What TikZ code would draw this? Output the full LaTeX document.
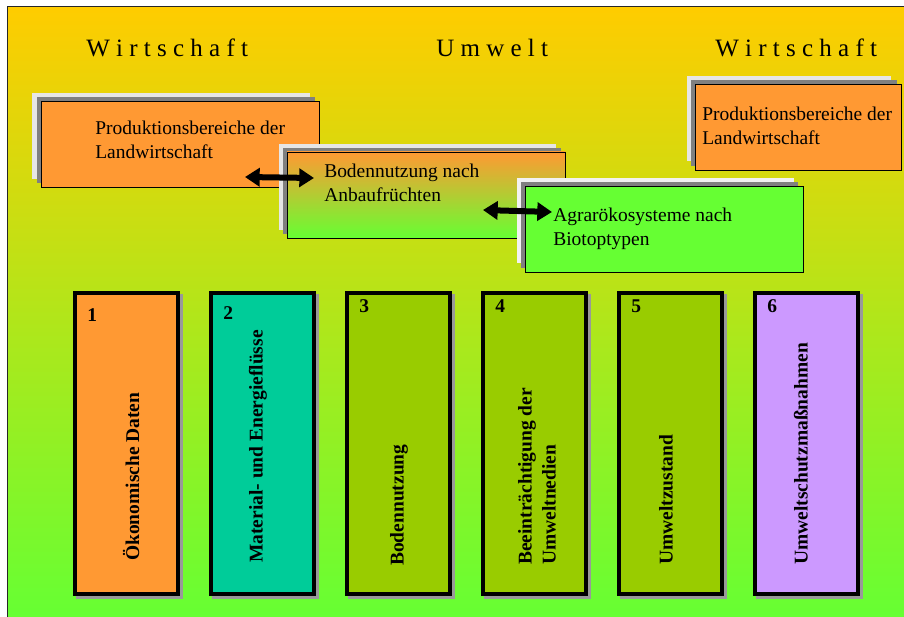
\documentclass[tikz,border=0pt]{standalone}
\usepackage{fontspec}
\setmainfont{Liberation Serif}
\usetikzlibrary{arrows.meta}
\definecolor{cyellow}{HTML}{FFCC00}
\definecolor{cgreen}{HTML}{66FF33}
\definecolor{corange}{HTML}{FF9933}
\definecolor{cteal}{HTML}{00CC99}
\definecolor{colive}{HTML}{99CC00}
\definecolor{clav}{HTML}{CC99FF}
\definecolor{clight}{HTML}{E6E6E6}
\definecolor{cdark}{HTML}{808080}
\definecolor{cshadow}{HTML}{999999}
\tikzset{
  lightsh/.style={fill=clight},
  darksh/.style={fill=cdark},
  topbox/.style={draw=black, line width=0.6pt},
  boxtext/.style={anchor=base west, align=left, inner sep=0pt, font=\fontsize{14.6}{18}\selectfont},
  heading/.style={anchor=base west, inner sep=0pt, font=\fontsize{18.75}{22}\selectfont},
  colbox/.style={draw=black, line width=3pt},
  numtext/.style={anchor=base west, inner sep=0pt, font=\bfseries\fontsize{14.6}{18}\selectfont},
  vtext/.style={rotate=90, anchor=west, align=left, inner sep=0pt, font=\bfseries\fontsize{14.6}{18}\selectfont},
  dblarrow/.style={line width=4.5pt, {Triangle[length=11pt,width=13.5pt]}-{Triangle[length=11pt,width=13.5pt]}}
}
\begin{document}
\begin{tikzpicture}[x=0.75pt,y=-0.75pt]
\useasboundingbox (0,0) rectangle (904,617);
\fill[white] (0,0) rectangle (904,617);
\shade[top color=cyellow, bottom color=cgreen] (7,7) rectangle (904,617);
\draw[line width=0.75pt, black!85] (7,617) -- (7,7) -- (904,7);

% headings
\node[heading] (h1) at (86,57) {W i r t s c h a f t};
\node[heading] (h2) at (436,57) {U m w e l t};
\node[heading] (h3) at (715,57) {W i r t s c h a f t};

% box A
\fill[lightsh] (32,93) rectangle (310,179);
\fill[darksh] (37,97) rectangle (315,183);
\draw[topbox, fill=corange] (41,101) rectangle (319,187);
\node[boxtext] (tA) at (95,158) {Produktionsbereiche der\\Landwirtschaft};

% box B
\fill[lightsh] (279,144) rectangle (556,230);
\fill[darksh] (283,148) rectangle (561,234);
\draw[topbox, top color=corange, bottom color=cgreen] (287,152) rectangle (565,238);
\node[boxtext] (tB) at (324,201) {Bodennutzung nach\\Anbaufrüchten};

% box C
\fill[fill=white!95!black] (517,178) rectangle (794,263);
\fill[darksh] (521,182) rectangle (798,268);
\draw[topbox, fill=cgreen] (525,186) rectangle (803,272);
\node[boxtext] (tC) at (553,245) {Agrarökosysteme nach\\Biotoptypen};

% box D
\fill[lightsh] (687,76) rectangle (891,161);
\fill[darksh] (691,80) rectangle (897,166);
\draw[topbox, fill=corange] (695,84) rectangle (901,170);
\node[boxtext] (tD) at (702,145) {Produktionsbereiche der\\Landwirtschaft};

% arrows
\coordinate (a1s) at (245,177);
\coordinate (a1e) at (314,178);
\coordinate (a2s) at (483,210);
\coordinate (a2e) at (552,212);
\draw[dblarrow] (a1s) -- (a1e);
\draw[dblarrow] (a2s) -- (a2e);

% bottom boxes
\foreach \i/\xl/\col/\ny in {1/73/corange/321, 2/209/cteal/319, 3/345/colive/312, 4/481/colive/312, 5/617/colive/312, 6/753/clav/312} {
  \fill[cshadow] (\xl+3,294) rectangle (\xl+110,599);
  \draw[colbox, fill=\col] (\xl+2,293) rectangle (\xl+105,594);
  \node[numtext] (n\i) at (\xl+14,\ny) {\i};
}
\node[vtext] (v1) at (131,561) {Ökonomische Daten};
\node[vtext] (v2) at (258,563) {Material- und Energieflüsse};
\node[vtext] (v3) at (399,566) {Bodennutzung};
\node[vtext] (v4) at (537,565) {Beeinträchtigung der\\Umweltnedien};
\node[vtext] (v5) at (666,565) {Umweltzustand};
\node[vtext] (v6) at (801,565) {Umweltschutzmaßnahmen};
\end{tikzpicture}
\end{document}
